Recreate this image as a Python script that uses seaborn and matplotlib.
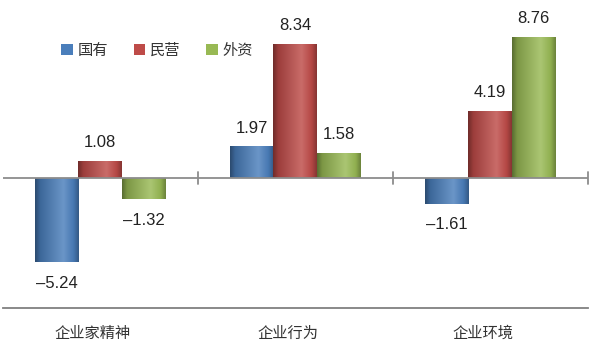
import numpy as np
import pandas as pd
import matplotlib
matplotlib.use("Agg")
import matplotlib.pyplot as plt
import matplotlib.transforms as mtransforms
from matplotlib.colors import LinearSegmentedColormap, to_rgb
from matplotlib.patches import Patch
import seaborn as sns

categories = ["企业家精神", "企业行为", "企业环境"]
series = ["国有", "民营", "外资"]
guoyou = [-5.24, 1.97, -1.61]
minying = [1.08, 8.34, 4.19]
waizi = [-1.32, 1.58, 8.76]
colors = ["#4A7EBB", "#BE4B48", "#98B954"]

rows = []
for s, vals in zip(series, [guoyou, minying, waizi]):
    for c, v in zip(categories, vals):
        rows.append({"cat": c, "series": s, "value": v})
df = pd.DataFrame(rows)

sns.set_theme(style="white")
plt.rcParams["font.family"] = ["Liberation Sans", "Noto Sans CJK SC", "DejaVu Sans"]

W, H = 600, 350
fig = plt.figure(figsize=(6, 3.5), dpi=100)
ax = fig.add_axes([2.5 / W, 1 - 308 / H, 585 / W, 298 / H])
ppu = 16.1
zero_px = 178
ax.set_xlim(-0.5, 2.5)
ax.set_ylim(-(308 - zero_px) / ppu, (zero_px - 10) / ppu)

sns.barplot(data=df, x="cat", y="value", hue="series", order=categories,
            hue_order=series, palette=colors, width=0.67, ax=ax,
            saturation=1, legend=False, edgecolor="none", linewidth=0)

def shade(rgb, f):
    r = np.array(rgb)
    if f < 1:
        return tuple(r * f)
    return tuple(r + (1 - r) * (f - 1))

for i, cont in enumerate(ax.containers):
    base = to_rgb(colors[i])
    cmap = LinearSegmentedColormap.from_list(
        "g%d" % i,
        [(0.0, shade(base, 0.58)), (0.12, shade(base, 0.82)),
         (0.65, shade(base, 1.18)), (0.88, shade(base, 0.95)),
         (1.0, shade(base, 0.7))])
    for p in cont.patches:
        x0, y0 = p.get_x(), p.get_y()
        w, h = p.get_width(), p.get_height()
        grad = np.linspace(0, 1, 256).reshape(1, -1)
        ymin, ymax = min(y0, y0 + h), max(y0, y0 + h)
        im = ax.imshow(grad, extent=[x0, x0 + w, ymin, ymax], aspect="auto",
                       cmap=cmap, zorder=p.get_zorder() + 0.1,
                       interpolation="bicubic")
        im.set_clip_path(p)

ax.axhline(0, color="#8c8c8c", lw=1.3, zorder=5)
tick_h = 6 / ppu
for b in [0.5, 1.5, 2.5]:
    ax.plot([b, b], [-tick_h, tick_h], color="#8c8c8c", lw=1.3, zorder=5,
            clip_on=False)

for i, cont in enumerate(ax.containers):
    for p, v in zip(cont.patches, [guoyou, minying, waizi][i]):
        xc = p.get_x() + p.get_width() / 2
        txt = ("%.2f" % v).replace("-", "–")
        dy = 13 if v >= 0 else -15
        ax.annotate(txt, (xc, v), xytext=(0, dy), textcoords="offset points",
                    ha="center", va="center", fontsize=12, color="#222222")

for s in ["top", "right", "left"]:
    ax.spines[s].set_visible(False)
ax.spines["bottom"].set_color("#808080")
ax.spines["bottom"].set_linewidth(1.3)
ax.set_yticks([])
ax.set_xlabel("")
ax.set_ylabel("")
ax.tick_params(axis="x", length=0, pad=12, labelsize=11, labelcolor="#333333")
ax.set_xticks(range(3))
ax.set_xticklabels(categories, family=["Noto Sans CJK SC", "DejaVu Sans"])
offset = mtransforms.ScaledTranslation(-7 / 100, 0, fig.dpi_scale_trans)
for lbl in ax.get_xticklabels():
    lbl.set_transform(lbl.get_transform() + offset)

handles = [Patch(facecolor=c, edgecolor="none") for c in colors]
leg = fig.legend(handles, series, loc="center", bbox_to_anchor=(157 / W, 1 - 50 / H),
                 ncol=3, frameon=False, handlelength=0.75, handleheight=0.75,
                 handletextpad=0.3, columnspacing=1.7,
                 prop={"family": ["Noto Sans CJK SC", "DejaVu Sans"], "size": 11})
for t in leg.get_texts():
    t.set_color("#333333")

fig.savefig("out.png", dpi=100)
